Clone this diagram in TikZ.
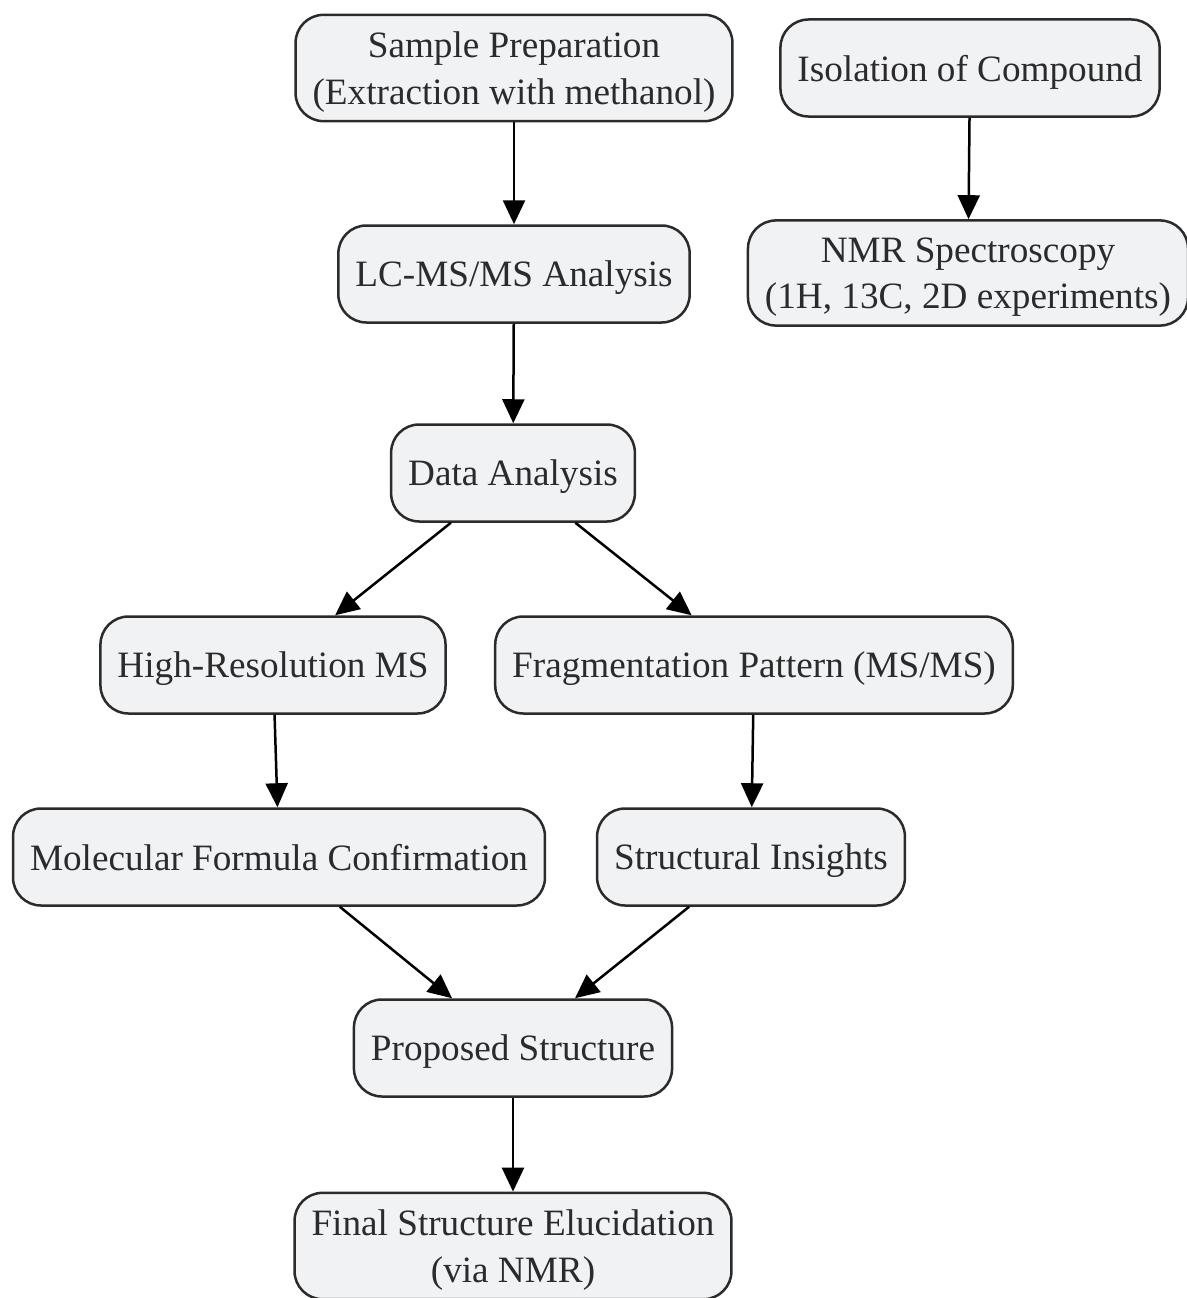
\documentclass[tikz,border=0pt]{standalone}
\usepackage{fontspec}
\setmainfont{Liberation Serif}
\usetikzlibrary{arrows.meta}
\definecolor{boxfill}{HTML}{F1F2F4}
\definecolor{boxline}{HTML}{2B2B2B}
\tikzstyle{box}=[draw=boxline, fill=boxfill, line width=2.5pt, rounded corners=28pt, align=center, inner xsep=17pt, inner ysep=17pt, text depth=0pt, minimum height=97pt, text=boxline, font=\fontsize{37.2}{46.5}\selectfont]
\tikzstyle{arrow}=[line width=2.5pt, -{Triangle[length=24pt,width=22pt]}]

\begin{document}
\begin{tikzpicture}[x=1pt, y=-1pt]
\useasboundingbox (0,0) rectangle (1186,1298);
% Nodes
    \node[box] (prep) at (514,68) {Sample Preparation\\(Extraction with methanol)};
    \node[box] (iso) at (970,68) {Isolation of Compound};
    \node[box] (lcms) at (514,274) {LC-MS/MS Analysis};
    \node[box] (nmr) at (968,273) {NMR Spectroscopy\\(1H, 13C, 2D experiments)};
    \node[box] (data) at (513,473) {Data Analysis};
    \node[box] (hrms) at (273,665) {High-Resolution MS};
    \node[box] (frag) at (754,665) {Fragmentation Pattern (MS/MS)};
    \node[box] (formula) at (279,857) {Molecular Formula Confirmation};
    \node[box] (insight) at (751,857) {Structural Insights};
    \node[box] (proposed) at (513,1048) {Proposed Structure};
    \node[box] (final) at (513,1246) {Final Structure Elucidation\\(via NMR)};
% Arrows
    \draw[arrow] (prep) -- (lcms);
    \draw[arrow] (iso) -- (nmr);
    \draw[arrow] (lcms) -- (data);
    \draw[arrow] (data) -- (hrms);
    \draw[arrow] (data) -- (frag);
    \draw[arrow] (hrms) -- (formula);
    \draw[arrow] (frag) -- (insight);
    \draw[arrow] (formula) -- (proposed);
    \draw[arrow] (insight) -- (proposed);
    \draw[arrow] (proposed) -- (final);
\end{tikzpicture}
\end{document}
